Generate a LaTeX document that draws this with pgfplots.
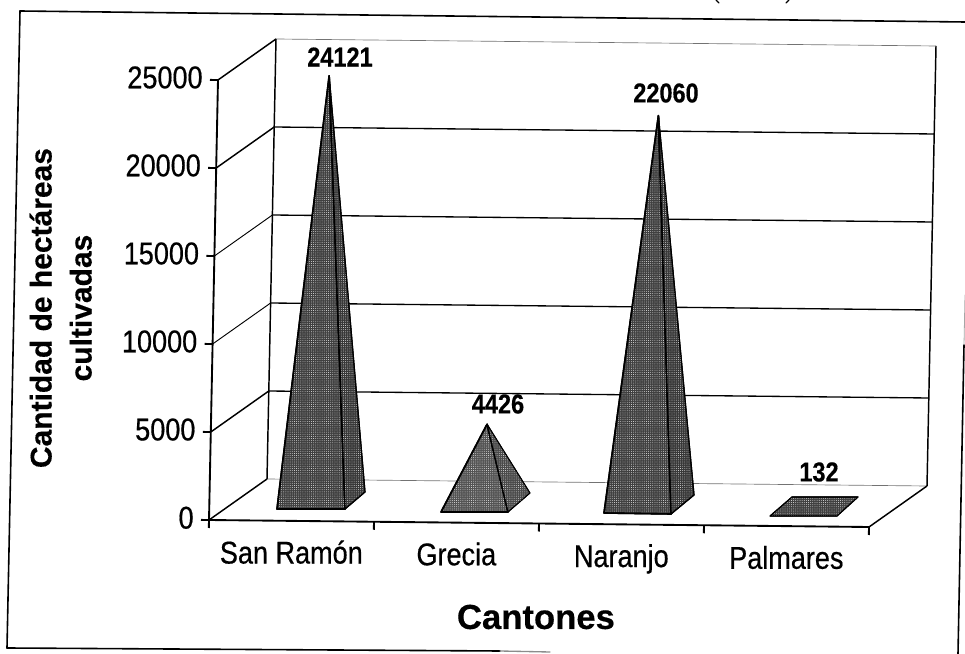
\documentclass[border=0pt]{standalone}
\usepackage{fontspec}
\setmainfont[FakeStretch=0.86,FakeBold=0.5]{Liberation Sans}[BoldFeatures={FakeStretch=0.86,FakeBold=0.4}]
\newfontfamily\plainfont[FakeBold=0.4]{Liberation Sans Bold}
\usepackage{pgfplots}
\usetikzlibrary{patterns}
\pgfplotsset{compat=1.18}
\pgfdeclarepatternformonly{speck}{\pgfqpoint{-0.5pt}{-0.5pt}}{\pgfqpoint{0.5pt}{0.5pt}}{\pgfqpoint{1.6pt}{1.6pt}}{%
  \pgfpathcircle{\pgfqpoint{0pt}{0pt}}{0.3pt}\pgfusepath{fill}}
\definecolor{frontA}{gray}{0.25}
\definecolor{sideA}{gray}{0.22}
\definecolor{frontB}{gray}{0.33}
\definecolor{sideB}{gray}{0.29}
\definecolor{faint}{gray}{0.45}
\newcommand{\tickfont}{\fontsize{23.6}{25}\selectfont}
\newcommand{\valfont}{\fontsize{20.5}{22}\selectfont\bfseries}
\tikzset{speckled/.style={postaction={pattern=speck,pattern color=white}}}
\begin{document}
\begin{tikzpicture}
\path[use as bounding box] (0,0) rectangle (723.75pt,490.5pt);
\begin{scope}[x=0.75pt,y=-0.75pt,yshift=490.5pt,line cap=round]
\draw[line width=1.2pt] (20,11) -- (965,22);
\draw[line width=1.2pt] (20,11) -- (7,648);
\draw[line width=1.2pt] (7,648) -- (500,651);
\draw[line width=1pt,black!45] (500,651) -- (550,652);
\draw[line width=1.2pt] (964,345) -- (958,654);
\draw[line width=0.6pt,black!35] (965,295) -- (964,345);
\draw[line width=1pt] (716,0) -- (719,3);
\draw[line width=1pt] (789,0) -- (786,3);
\end{scope}
\begin{axis}[
  at={(156.75pt,100.5pt)}, anchor=origin,
  x={(123.75pt,-1.3125pt)}, y={(0.00027pt,0.0132pt)},
  xmin=0, xmax=4, ymin=0, ymax=25000,
  clip=false,
  scaled y ticks=false,
  axis x line*=bottom, axis y line*=left,
  axis line style={line width=1.4pt,-},
  tick style={line width=1.4pt,black},
  ytick={0,5000,10000,15000,20000,25000},
  xtick={0.5,1.5,2.5,3.5},
  xticklabels={San Ramón,Grecia,Naranjo,Palmares},
  minor xtick={0,1,2,3,4},
  major x tick style={draw=none},
  major tick length=6pt, minor tick length=6pt,
  tick align=outside,
  y tick label style={/pgf/number format/1000 sep={},/pgf/number format/assume math mode=true,font=\tickfont,xshift=-2pt,yshift=1.5pt},
  x tick label style={font=\tickfont,anchor=base,yshift=-26pt},
  xlabel={Cantones},
  ylabel={Cantidad de hectáreas\\cultivadas},
  every axis x label/.style={at={(axis cs:1.993,-5313)},anchor=center,font=\plainfont\fontsize{26}{28}\selectfont},
  every axis y label/.style={at={(axis cs:-.925,11950)},anchor=center,rotate=90,align=center,font=\plainfont\fontsize{22.5}{30}\selectfont},
]
% walls
\addplot[line width=0.5pt,faint] coordinates {(0.3464,27364) (4.3464,27364)};
\addplot[line width=0.5pt,faint] coordinates {(0.3464,2364) (4.3464,2364)};
\addplot[line width=1pt] coordinates {(0.3464,7364) (4.3464,7364)};
\addplot[line width=1pt] coordinates {(0.3464,12364) (4.3464,12364)};
\addplot[line width=1pt] coordinates {(0.3464,17364) (4.3464,17364)};
\addplot[line width=1pt] coordinates {(0.3464,22364) (4.3464,22364)};
\addplot[line width=1.1pt] coordinates {(0.3464,2364) (0.3464,27364)};
\addplot[line width=1.1pt] coordinates {(4.3464,2364) (4.3464,27364)};
\addplot[line width=1.1pt] coordinates {(0,0) (0.3464,2364)};
\addplot[line width=1.1pt] coordinates {(0,5000) (0.3464,7364)};
\addplot[line width=0.7pt] coordinates {(0,10000) (0.3464,12364)};
\addplot[line width=0.7pt] coordinates {(0,15000) (0.3464,17364)};
\addplot[line width=1.1pt] coordinates {(0,20000) (0.3464,22364)};
\addplot[line width=1.1pt] coordinates {(0,25000) (0.3464,27364)};
\addplot[line width=1.1pt] coordinates {(4,0) (4.3464,2364)};
% San Ramon 24121
\addplot[fill=frontA,speckled,draw=black,line width=1.2pt,line join=round] coordinates {(0.4107,666) (0.8227,707) (0.673,25303)} --cycle;
\addplot[fill=sideA,speckled,draw=black,line width=0.9pt,line join=round] coordinates {(0.8227,707) (0.9418,1685) (0.673,25303)} --cycle;
% Grecia 4426
\addplot[fill=frontB,speckled,draw=black,line width=1.2pt,line join=round] coordinates {(1.4048,594) (1.8108,635) (1.673,5608)} --cycle;
\addplot[fill=sideB,speckled,draw=black,line width=0.7pt,line join=round] coordinates {(1.8108,635) (1.9417,1727) (1.673,5608)} --cycle;
% Naranjo 22060
\addplot[fill=frontA,speckled,draw=black,line width=1.2pt,line join=round] coordinates {(2.3926,636) (2.7987,619) (2.673,23242)} --cycle;
\addplot[fill=sideA,speckled,draw=black,line width=0.9pt,line join=round] coordinates {(2.7987,619) (2.9357,1712) (2.673,23242)} --cycle;
% Palmares 132
\addplot[fill=frontA,speckled,draw=black,line width=0.8pt,line join=round] coordinates {(3.3988,565) (3.8047,606) (3.9297,1698) (3.5297,1658)} --cycle;
% value labels
\node[font=\valfont] at (axis cs:.7364,26380) {24121};
\node[font=\valfont] at (axis cs:1.7368,6764) {4426};
\node[font=\valfont] at (axis cs:2.7162,24531) {22060};
\node[font=\valfont] at (axis cs:3.6903,3094) {132};
\end{axis}
\end{tikzpicture}
\end{document}
